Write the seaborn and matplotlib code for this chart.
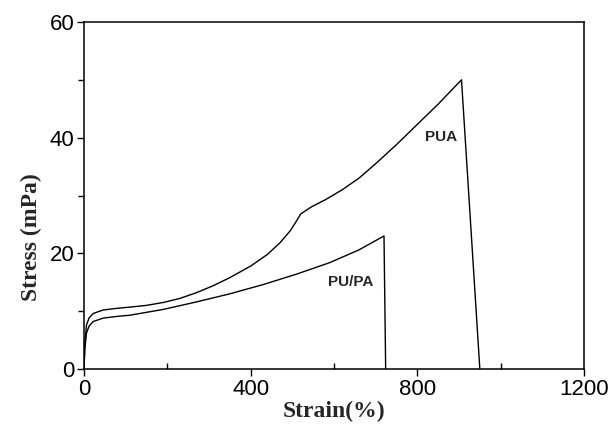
import matplotlib
matplotlib.use("Agg")
import matplotlib.pyplot as plt
from matplotlib.ticker import MultipleLocator
import seaborn as sns
import pandas as pd

# PUA curve (strain %, stress mPa)
pua_strain = [0, 2, 6, 12, 22, 46, 80, 110, 150, 190, 230, 270, 310, 350, 400, 440, 470, 495, 510, 520,
              545, 580, 620, 660, 700, 750, 800, 850, 906, 950]
pua_stress = [0, 4.5, 7.6, 8.8, 9.6, 10.2, 10.5, 10.7, 11.0, 11.5, 12.2, 13.2, 14.4, 15.8, 17.8, 19.8, 21.8, 23.9, 25.6, 26.8,
              28.0, 29.3, 31.0, 33.0, 35.5, 38.8, 42.3, 45.8, 50.0, 0]

# PU/PA curve
pupa_strain = [0, 2, 6, 12, 22, 46, 80, 110, 190, 270, 350, 430, 510, 590, 660, 720, 724]
pupa_stress = [0, 3.5, 6.2, 7.4, 8.2, 8.8, 9.1, 9.3, 10.3, 11.6, 13.0, 14.6, 16.4, 18.4, 20.6, 23.0, 0]

labels = ["PUA", "PU/PA"]
label_pos = [(857, 40.1), (641, 15.0)]

df = pd.concat([
    pd.DataFrame({"strain": pua_strain, "stress": pua_stress, "series": labels[0]}),
    pd.DataFrame({"strain": pupa_strain, "stress": pupa_stress, "series": labels[1]}),
])

sns.set_style("white")
fig = plt.figure(figsize=(6.13, 4.30), dpi=100)
ax = fig.add_axes([84/613, 61/430, 500/613, 347/430])

sns.lineplot(data=df, x="strain", y="stress", units="series", estimator=None,
             sort=False, color="black", linewidth=1.0, ax=ax, legend=False)

for lab, (xx, yy) in zip(labels, label_pos):
    ax.text(xx, yy, lab, ha="center", va="center", fontsize=11, fontweight="bold",
            family="Liberation Sans")

ax.set_xlim(0, 1200)
ax.set_ylim(0, 60)
ax.xaxis.set_major_locator(MultipleLocator(400))
ax.xaxis.set_minor_locator(MultipleLocator(200))
ax.yaxis.set_major_locator(MultipleLocator(20))
ax.yaxis.set_minor_locator(MultipleLocator(10))

for s in ax.spines.values():
    s.set_color("black")
    s.set_linewidth(1.1)

ax.tick_params(axis="x", which="major", direction="out", length=5, width=1, colors="black", bottom=True)
ax.tick_params(axis="x", which="minor", direction="in", length=4, width=1, colors="black", bottom=True)
ax.tick_params(axis="y", which="major", direction="out", length=5, width=1, colors="black", left=True)
ax.tick_params(axis="y", which="minor", direction="out", length=4, width=1, colors="black", left=True)
ax.tick_params(axis="both", which="major", labelsize=16, pad=2)
for t in ax.get_xticklabels() + ax.get_yticklabels():
    t.set_family("Liberation Sans")

ax.set_xlabel("Strain(%)", fontsize=17, fontweight="bold", family="Liberation Serif", labelpad=1)
ax.set_ylabel("Stress (mPa)", fontsize=17, fontweight="bold", family="Liberation Serif")
ax.yaxis.set_label_coords(-0.084, 0.38)

fig.savefig("out.png", dpi=100)
